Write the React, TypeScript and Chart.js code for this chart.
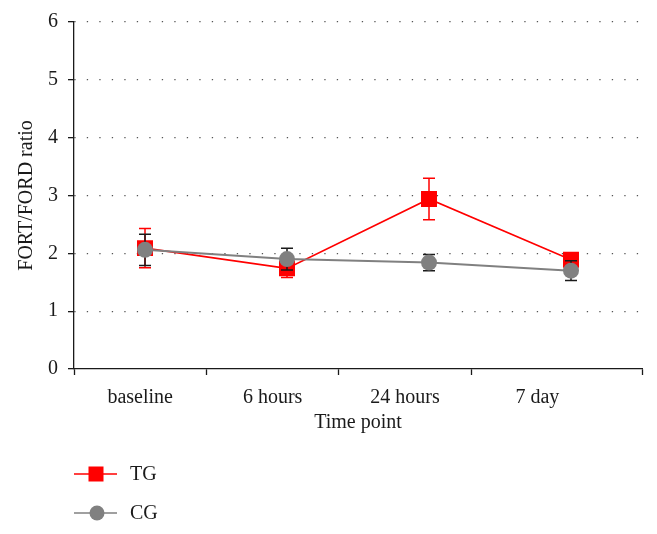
import React, { useEffect, useRef } from "react";
import { Chart, registerables } from "chart.js";

Chart.register(...registerables);

const CATEGORIES = ["baseline", "6 hours", "24 hours", "7 day"];
const TG_VALUES = [2.09, 1.74, 2.94, 1.89];
const TG_ERRORS = [0.34, 0.16, 0.36, 0.12];
const CG_VALUES = [2.06, 1.9, 1.84, 1.7];
const CG_ERRORS = [0.27, 0.19, 0.14, 0.17];
const Y_TICKS = [0, 1, 2, 3, 4, 5, 6];
const SERIES_NAMES = ["TG", "CG"];

const FONT = "'Liberation Serif', 'Times New Roman', serif";
const TEXT = "#1a1a1a";
const RED = "#ff0000";
const GRAY = "#808080";
const ERR_COLORS = [RED, "#1a1a1a"];
const ERRORS = [TG_ERRORS, CG_ERRORS];
const AXIS_MAX = 3.79;

const errorBarPlugin = {
  id: "errorBars",
  beforeDatasetDraw(chart: any, args: any) {
    const errs = ERRORS[args.index];
    if (!errs) return;
    const ds = chart.data.datasets[args.index];
    const yScale = chart.scales.y;
    const ctx = chart.ctx;
    ctx.save();
    ctx.strokeStyle = ERR_COLORS[args.index];
    ctx.lineWidth = 1.5;
    args.meta.data.forEach((pt: any, i: number) => {
      const v = ds.data[i];
      const e = errs[i];
      const top = yScale.getPixelForValue(v + e);
      const bot = yScale.getPixelForValue(v - e);
      const x = pt.x;
      ctx.beginPath();
      ctx.moveTo(x, top);
      ctx.lineTo(x, bot);
      ctx.moveTo(x - 6, top);
      ctx.lineTo(x + 6, top);
      ctx.moveTo(x - 6, bot);
      ctx.lineTo(x + 6, bot);
      ctx.stroke();
    });
    ctx.restore();
  },
};

const legendPlugin = {
  id: "customLegend",
  afterDraw(chart: any) {
    const ctx = chart.ctx;
    const items = [
      { name: SERIES_NAMES[0], color: RED, style: "rect", y: 474 },
      { name: SERIES_NAMES[1], color: GRAY, style: "circle", y: 513 },
    ];
    ctx.save();
    items.forEach((it) => {
      ctx.strokeStyle = it.color;
      ctx.lineWidth = 1.6;
      ctx.beginPath();
      ctx.moveTo(74, it.y);
      ctx.lineTo(117, it.y);
      ctx.stroke();
      ctx.fillStyle = it.color;
      if (it.style === "rect") {
        ctx.fillRect(96 - 7.5, it.y - 7.5, 15, 15);
      } else {
        ctx.beginPath();
        ctx.arc(97, it.y, 7.5, 0, Math.PI * 2);
        ctx.fill();
      }
      ctx.fillStyle = TEXT;
      ctx.font = `20px ${FONT}`;
      ctx.textBaseline = "middle";
      ctx.textAlign = "left";
      ctx.fillText(it.name, 130, it.y + 1);
    });
    ctx.restore();
  },
};

export default function App() {
  const ref = useRef<HTMLCanvasElement | null>(null);

  useEffect(() => {
    if (!ref.current) return;
    const chart = new Chart(ref.current, {
      type: "line",
      data: {
        labels: CATEGORIES,
        datasets: [
          {
            label: SERIES_NAMES[0],
            data: TG_VALUES,
            borderColor: RED,
            backgroundColor: RED,
            borderWidth: 1.6,
            pointStyle: "rect",
            pointRadius: 11.3,
            pointBorderWidth: 0,
            pointBackgroundColor: RED,
            order: 1,
            xAxisID: "x",
            yAxisID: "y",
          },
          {
            label: SERIES_NAMES[1],
            data: CG_VALUES,
            borderColor: GRAY,
            backgroundColor: GRAY,
            borderWidth: 2,
            pointStyle: "circle",
            pointRadius: 8,
            pointBorderWidth: 0,
            pointBackgroundColor: GRAY,
            order: 0,
            xAxisID: "x",
            yAxisID: "y",
          },
        ],
      },
      options: {
        responsive: false,
        animation: false,
        events: [],
        layout: { padding: { left: 0, right: 15, top: 22, bottom: 95 } },
        plugins: {
          legend: { display: false },
          tooltip: { enabled: false },
        },
        scales: {
          x: {
            type: "category",
            display: false,
            offset: true,
          },
          x2: {
            type: "linear",
            position: "bottom",
            min: -0.5,
            max: AXIS_MAX,
            afterBuildTicks: (scale: any) => {
              const vals = [-0.5, 0, 0.5, 1, 1.5, 2, 2.5, 3, AXIS_MAX];
              scale.ticks = vals.map((v) => ({ value: v }));
            },
            afterFit: (scale: any) => {
              scale.height = 70;
            },
            border: { display: true, color: TEXT, width: 1.3 },
            grid: {
              drawOnChartArea: false,
              drawTicks: true,
              tickLength: 6,
              tickWidth: 1.3,
              tickColor: (c: any) =>
                c.tick && Number.isInteger(c.tick.value) ? "rgba(0,0,0,0)" : TEXT,
            },
            ticks: {
              autoSkip: false,
              maxRotation: 0,
              minRotation: 0,
              padding: 11,
              color: TEXT,
              font: { family: FONT, size: 20 },
              callback: (v: any) =>
                Number.isInteger(v) && CATEGORIES[v] !== undefined ? CATEGORIES[v] : "",
            },
            title: {
              display: true,
              text: "Time point",
              color: TEXT,
              font: { family: FONT, size: 20 },
              padding: { top: 0, bottom: 4 },
            },
          },
          y: {
            type: "linear",
            min: 0,
            max: 6,
            afterBuildTicks: (scale: any) => {
              scale.ticks = Y_TICKS.map((v) => ({ value: v }));
            },
            afterFit: (scale: any) => {
              scale.width = 74;
            },
            border: { display: true, color: TEXT, width: 1.3, dash: [1.3, 11.2] },
            grid: {
              drawTicks: true,
              tickLength: 6,
              tickWidth: 1.3,
              tickColor: TEXT,
              color: (c: any) => (c.tick && c.tick.value === 0 ? "rgba(0,0,0,0)" : "#555555"),
              lineWidth: 1.3,
              tickBorderDash: [],
            },
            ticks: {
              padding: 10,
              color: TEXT,
              font: { family: FONT, size: 20 },
              callback: (v: any) => String(v),
            },
            title: {
              display: true,
              text: "FORT/FORD ratio",
              color: TEXT,
              font: { family: FONT, size: 20 },
              padding: { top: 15, bottom: 0 },
            },
          },
        },
      },
      plugins: [errorBarPlugin, legendPlugin],
    } as any);
    return () => chart.destroy();
  }, []);

  return (
    <div style={{ position: "fixed", left: 0, top: 0, width: 657, height: 534, background: "#fff" }}>
      <canvas ref={ref} width={657} height={534} />
    </div>
  );
}
